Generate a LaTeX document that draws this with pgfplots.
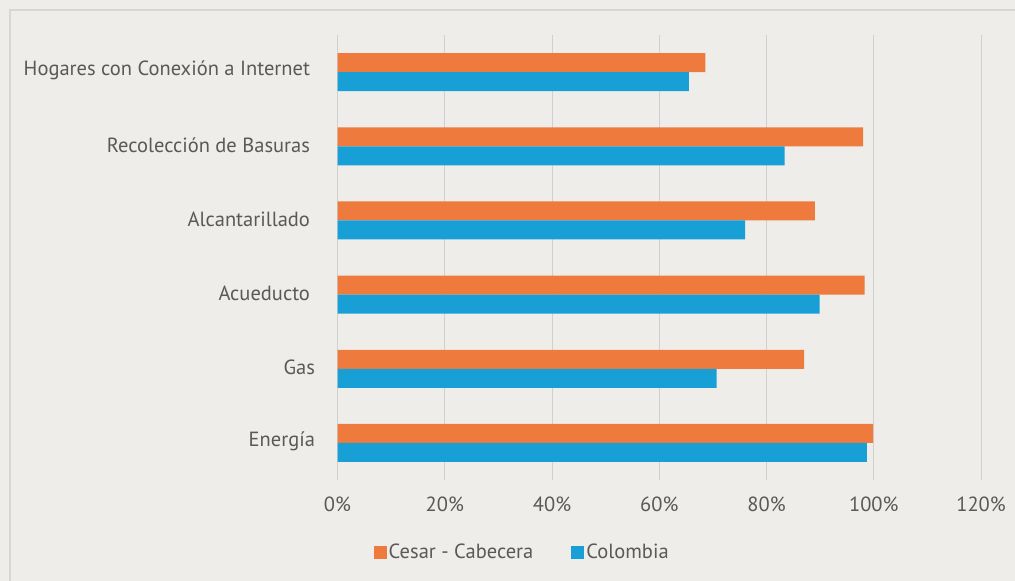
\documentclass[border=0pt]{standalone}
\usepackage{pgfplots}
\pgfplotsset{compat=1.18}
\usepackage{fontspec}
\setmainfont{PT Sans}
\definecolor{bg}{HTML}{EEEDE9}
\definecolor{frame}{HTML}{D6D6D4}
\definecolor{gridc}{HTML}{D0D0CE}
\definecolor{txt}{HTML}{595959}
\definecolor{orng}{HTML}{EE7A3D}
\definecolor{blu}{HTML}{18A0D6}
\begin{document}
\begin{tikzpicture}[x=1bp,y=1bp]
\fill[bg] (0,0) rectangle (1015,-581);
\useasboundingbox (0,0) rectangle (1015,-581);
\begin{scope}
\clip (0,0) rectangle (1015,-581);
\draw[frame, line width=1.5bp] (10,-10) rectangle (1030,-600);
\end{scope}
\begin{axis}[
  at={(337.5bp,-35bp)}, anchor=north west,
  scale only axis, width=643.5bp, height=445bp,
  xmin=0, xmax=120, ymin=-0.5, ymax=5.5,
  xtick={0,20,...,120},
  xticklabel={\pgfmathprintnumber{\tick}\%},
  /pgf/number format/assume math mode=true,
  ytick={0,...,5},
  yticklabels={Energía,Gas,Acueducto\kern5bp,Alcantarillado\kern5bp,Recolección de Basuras\kern5bp,Hogares con Conexión a Internet\kern5bp},
  xmajorgrids, grid style={gridc, line width=1bp},
  axis line style={draw=none},
  major tick length=0pt,
  tick label style={font=\fontsize{20.5bp}{24bp}\selectfont, text=txt},
  yticklabel style={xshift=-19bp, yshift=1.5bp},
  xticklabel style={yshift=-13bp},
  xbar, bar width=19bp,
  legend style={at={(0.287,-0.162)}, anchor=center, draw=none, fill=none,
    legend columns=2, font=\fontsize{20.5bp}{24bp}\selectfont, text=txt,
    /tikz/every even column/.append style={column sep=36bp}},
  legend cell align=left,
  legend image code/.code={\fill[#1] (0bp,-6.5bp) rectangle (13bp,6.5bp);},
  clip=false,
]
\addplot[fill=orng, draw=none, bar shift=9.5bp] coordinates {
(99.9,0) (87.0,1) (98.3,2) (89.0,3) (98.0,4) (68.6,5)};
\addplot[fill=blu, draw=none, bar shift=-9.5bp] coordinates {
(98.7,0) (70.7,1) (89.9,2) (76.0,3) (83.4,4) (65.5,5)};
\legend{Cesar - Cabecera, Colombia}
\end{axis}
\end{tikzpicture}
\end{document}
